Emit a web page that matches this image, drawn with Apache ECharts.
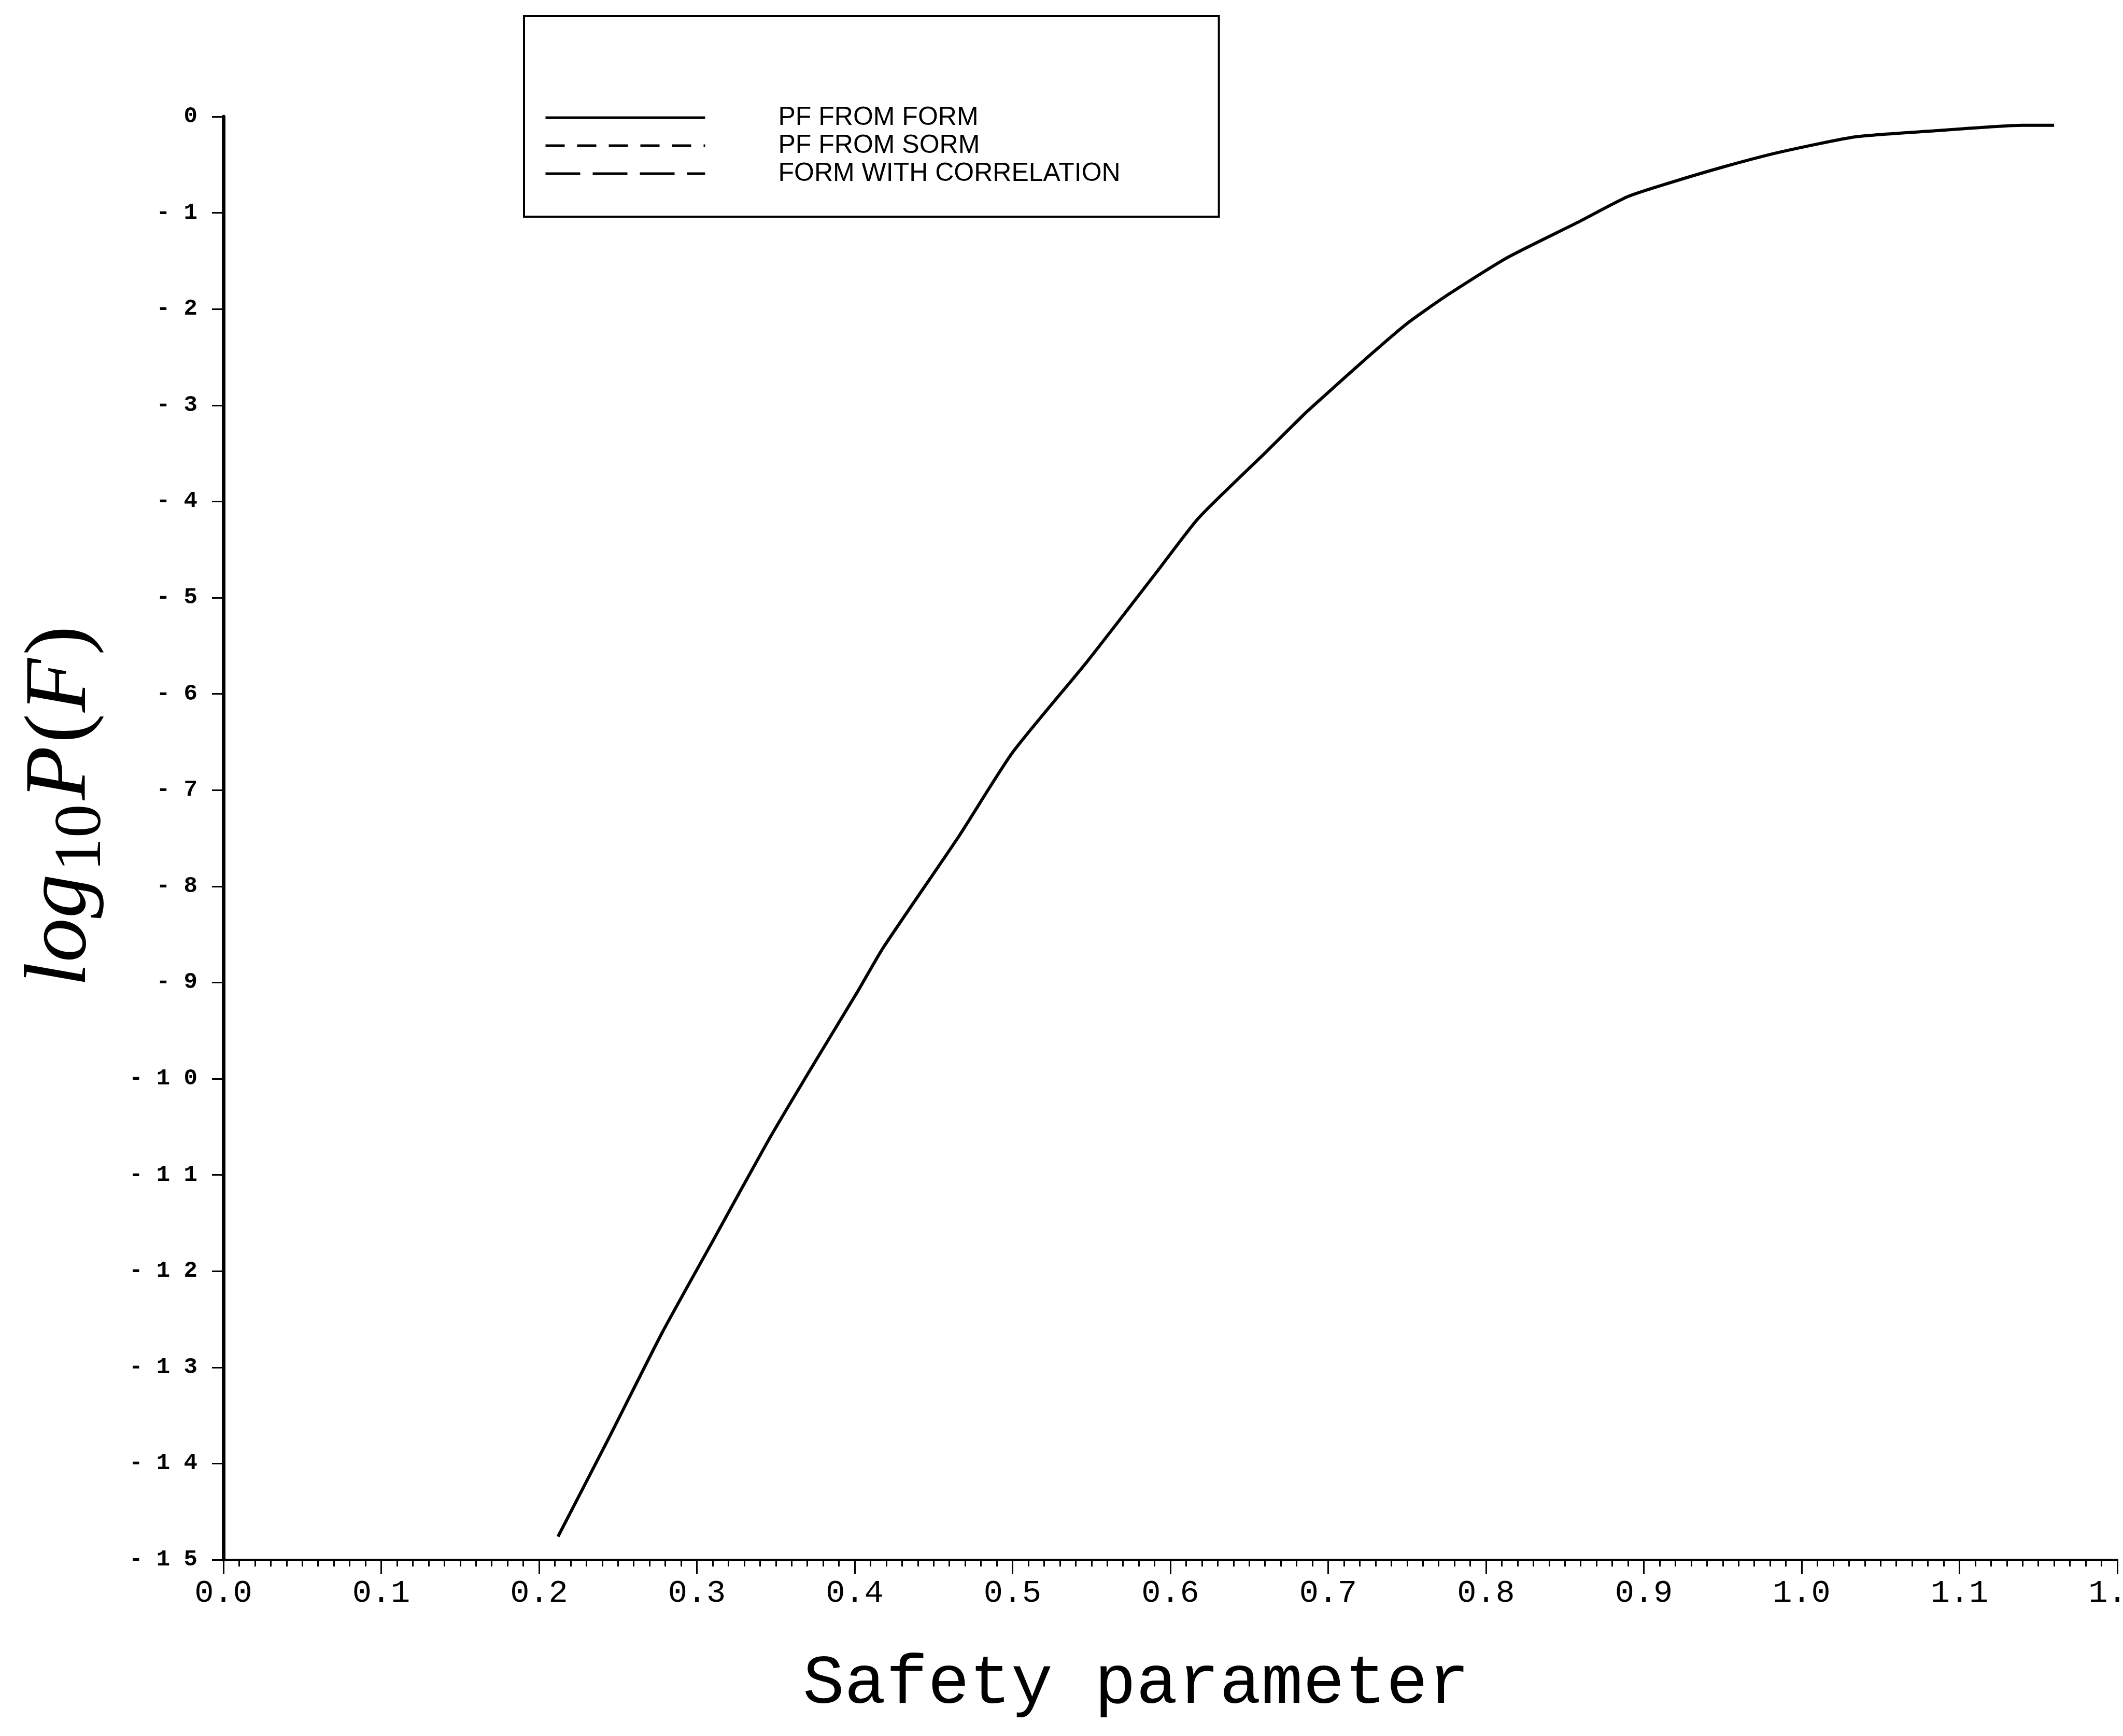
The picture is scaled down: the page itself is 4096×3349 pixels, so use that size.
<!DOCTYPE html>
<html>
<head>
<meta charset="utf-8">
<title>log10 P(F) against safety parameter</title>
<script src="https://cdn.jsdelivr.net/npm/echarts@6/dist/echarts.min.js"></script>
<style>
html, body { margin: 0; padding: 0; background: #fff; }
#chart { width: 4096px; height: 3349px; }
</style>
</head>
<body>
<div id="chart"></div>
<script>
// values
var safety = [0.212, 0.245, 0.278, 0.310, 0.345, 0.371, 0.402, 0.418, 0.466, 0.500,
	0.547, 0.592, 0.618, 0.661, 0.685, 0.693, 0.725, 0.750, 0.776, 0.813,
	0.858, 0.890, 0.916, 0.951, 0.986, 1.034, 1.082, 1.140, 1.160];
var logPfForm = [-14.76, -13.71, -12.64, -11.69, -10.65, -9.93, -9.09, -8.64, -7.48, -6.61,
	-5.67, -4.72, -4.17, -3.48, -3.09, -2.97, -2.50, -2.15, -1.85, -1.47,
	-1.10, -0.83, -0.69, -0.52, -0.37, -0.21, -0.15, -0.09, -0.09];
var seriesNames = ['PF FROM FORM', 'PF FROM SORM', 'FORM WITH CORRELATION'];
// the SORM and correlated curves can not be told apart from FORM in the picture,
// so they only show up in the legend
var dashTypes = ['solid', [37, 24], [67, 24]];

var points = [];
for (var i = 0; i < safety.length; i++) {
	points.push([safety[i], logPfForm[i]]);
}

var chart = echarts.init(document.getElementById('chart'));

var series = [];
for (var s = 0; s < seriesNames.length; s++) {
	series.push({
		name: seriesNames[s],
		type: 'line',
		data: s == 0 ? points : [],
		symbol: 'none',
		smooth: 0.2,
		color: '#000',
		lineStyle: { color: '#000', width: 6, type: dashTypes[s] }
	});
}

var option = {
	animation: false,
	backgroundColor: '#fff',
	color: ['#000'],
	grid: { left: 431, right: 11, top: 225, bottom: 340, outerBoundsMode: 'none' },
	legend: {
		orient: 'vertical',
		left: 1011,
		top: 31,
		padding: [171, 190, 58, 39],
		borderColor: '#000',
		borderWidth: 4,
		itemWidth: 308,
		itemHeight: 20,
		itemGap: 4,
		selectedMode: false,
		itemStyle: { color: 'rgba(0,0,0,0)', borderColor: 'rgba(0,0,0,0)', borderWidth: 0 },
		lineStyle: { width: 5 },
		textStyle: {
			fontFamily: 'Liberation Sans',
			fontSize: 50,
			lineHeight: 50,
			color: '#000',
			padding: [0, 0, 0, 136]
		},
		data: seriesNames
	},
	xAxis: {
		type: 'value',
		min: 0,
		max: 1.2,
		interval: 0.1,
		axisLine: { onZero: false, lineStyle: { color: '#000', width: 4 } },
		axisTick: { length: 27, lineStyle: { color: '#000', width: 3 } },
		minorTick: { show: true, splitNumber: 10, length: 13, lineStyle: { color: '#000', width: 3 } },
		splitLine: { show: false },
		axisLabel: {
			margin: 34,
			fontFamily: 'Liberation Mono',
			fontSize: 62,
			color: '#000',
			formatter: function(v) { return v.toFixed(1); }
		},
		name: 'Safety parameter',
		nameLocation: 'middle',
		nameGap: 174,
		nameTextStyle: {
			fontFamily: 'Liberation Mono',
			fontSize: 134,
			color: '#000',
			padding: [0, 132, 0, 0]
		}
	},
	yAxis: {
		type: 'value',
		min: -15,
		max: 0,
		interval: 1,
		axisLine: { onZero: false, lineStyle: { color: '#000', width: 7 } },
		axisTick: { length: 22, lineStyle: { color: '#000', width: 3 } },
		splitLine: { show: false },
		axisLabel: {
			margin: 50,
			fontFamily: 'Liberation Mono',
			fontSize: 44,
			fontWeight: 'bold',
			color: '#000',
			formatter: function(v) {
				if (v == 0) return '0';
				return '- ' + String(Math.abs(v)).split('').join(' ');
			}
		},
		name: '{i|log}{s|10}{i|P}{r|(}{i|F}{r|)}',
		nameLocation: 'middle',
		nameRotate: 90,
		nameGap: 207,
		nameTextStyle: {
			padding: [0, 0, 0, 126],
			rich: {
				i: { fontFamily: 'Liberation Serif', fontStyle: 'italic', fontSize: 170, color: '#000', verticalAlign: 'bottom', padding: [0, 3, 20, 0] },
				s: { fontFamily: 'Liberation Serif', fontSize: 130, color: '#000', verticalAlign: 'bottom', padding: [0, 8, 0, 2] },
				r: { fontFamily: 'Liberation Serif', fontSize: 170, color: '#000', verticalAlign: 'bottom', padding: [0, 3, 20, 3] }
			}
		}
	},
	series: series
};

chart.setOption(option);
</script>
</body>
</html>
